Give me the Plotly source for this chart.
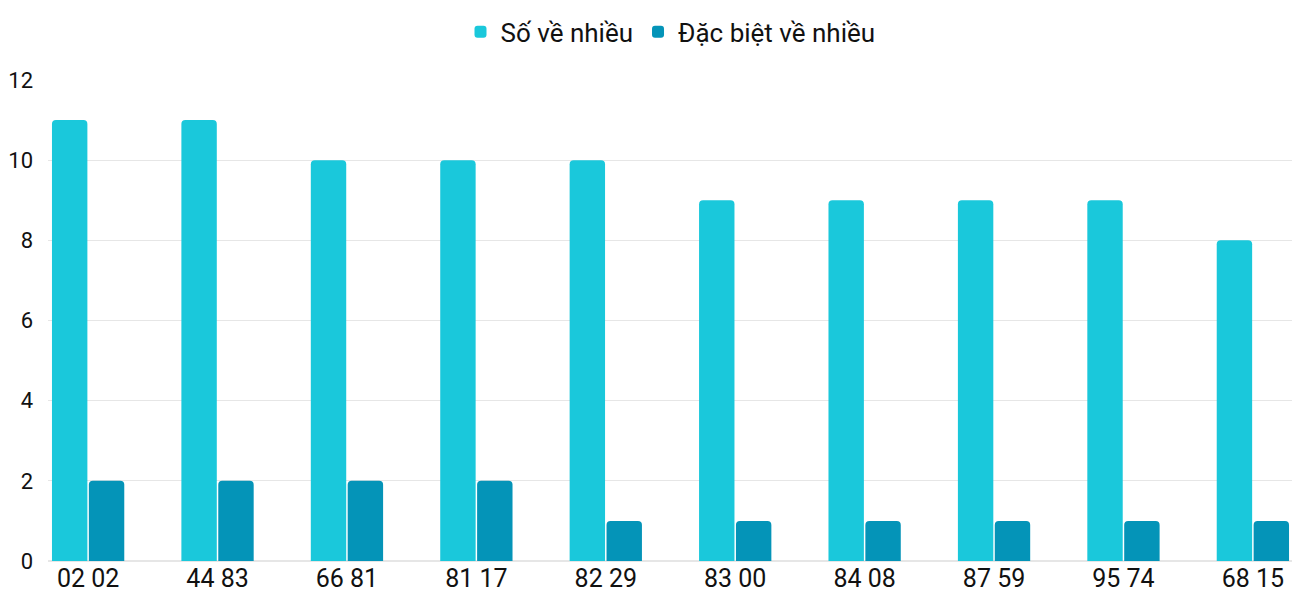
import plotly.graph_objects as go

categories = ["02 02", "44 83", "66 81", "81 17", "82 29", "83 00", "84 08", "87 59", "95 74", "68 15"]
so_ve_nhieu = [11, 11, 10, 10, 10, 9, 9, 9, 9, 8]
dac_biet = [2, 2, 2, 2, 1, 1, 1, 1, 1, 1]

fig = go.Figure()
fig.add_bar(x=categories, y=so_ve_nhieu, name="Số về nhiều", marker_color="#1AC8DB",
            marker_line_width=0)
fig.add_bar(x=categories, y=dac_biet, name="Đặc biệt về nhiều", marker_color="#0494B8",
            marker_line_width=0)
fig.update_layout(
    width=1285, height=585, barmode="group", bargap=0.43, bargroupgap=0.04,
    barcornerradius=4,
    plot_bgcolor="white", paper_bgcolor="white",
    font=dict(family="Roboto", size=22, color="#111"),
    margin=dict(l=37, r=0, t=69, b=27),
    legend=dict(orientation="h", x=0.5, xanchor="center", y=1.10, yanchor="middle",
                font=dict(size=26), itemsizing="constant"),
    xaxis=dict(range=[-0.31, 9.31], showgrid=False, ticks="", tickfont=dict(size=25)),
    yaxis=dict(range=[0, 12], dtick=2, gridcolor="#e6e6e6", zeroline=True,
               zerolinecolor="#e6e6e6", tickfont=dict(size=22), ticklabelstandoff=14),
)
fig.write_html("out.html")
